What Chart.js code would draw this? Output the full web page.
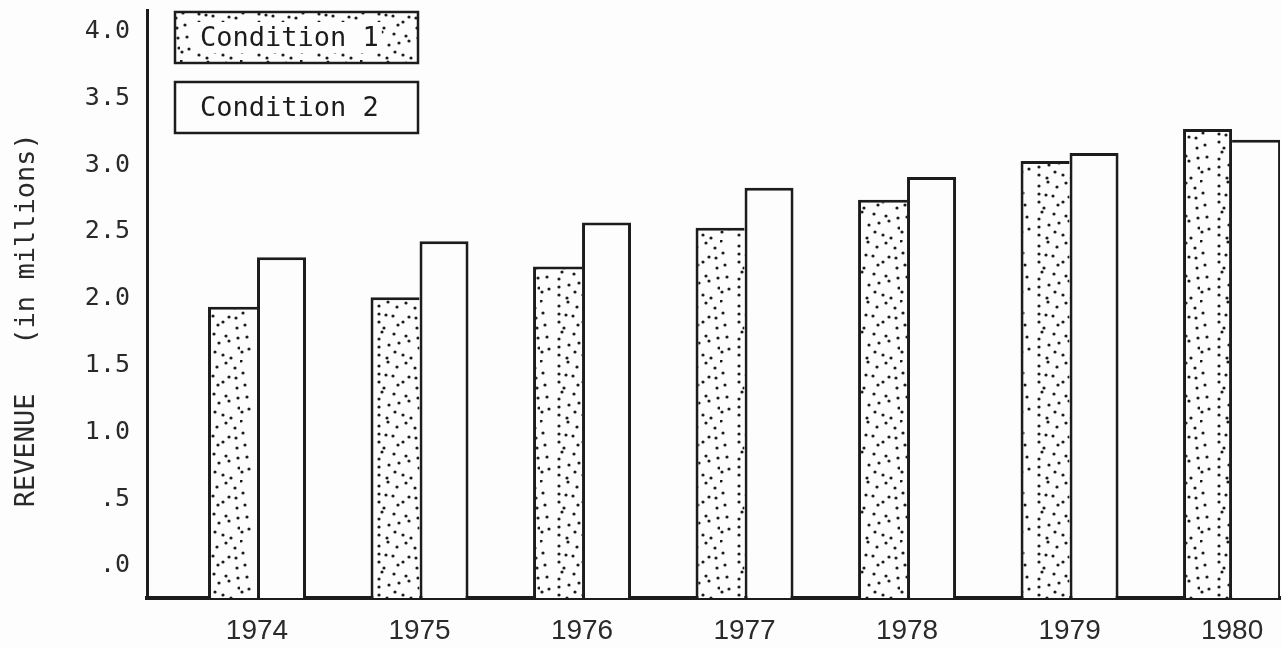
<!DOCTYPE html>
<html>
<head>
<meta charset="utf-8">
<script src="https://cdn.jsdelivr.net/npm/chart.js@4.4.0/dist/chart.umd.min.js"></script>
<style>
  html, body { margin: 0; padding: 0; background: #fdfdfd; }
  #wrap { width: 1282px; height: 648px; }
</style>
</head>
<body>
<div id="wrap"><canvas id="revenue-chart"></canvas></div>
<script>
// Données (revenus en millions)
const years = ['1974', '1975', '1976', '1977', '1978', '1979', '1980'];
const condition1 = [1.94, 2.01, 2.24, 2.53, 2.74, 3.03, 3.27];
const condition2 = [2.31, 2.43, 2.57, 2.83, 2.91, 3.09, 3.19];
const seriesNames = ['Condition 1', 'Condition 2'];
const yTickValues = [0, 0.5, 1, 1.5, 2, 2.5, 3, 3.5, 4];
const yTickLabels = ['.0', '.5', '1.0', '1.5', '2.0', '2.5', '3.0', '3.5', '4.0'];
const yMin = -0.24;
const yMax = 4.16;

const ink = '#1c1c1c';
const paper = '#fdfdfd';
const monoFont = '"DejaVu Sans Mono", monospace';
const sansFont = '"Liberation Sans", sans-serif';

// motif pointillé (trame) pour la série 1
function makeDotPattern(ctx) {
  const tile = document.createElement('canvas');
  tile.width = 60;
  tile.height = 60;
  const t = tile.getContext('2d');
  t.fillStyle = paper;
  t.fillRect(0, 0, 60, 60);
  t.fillStyle = ink;
  for (let i = 0; i < 6; i++) {
    for (let j = 0; j < 6; j++) {
      const dx = ((i * 17 + j * 29 + i * j * 7) % 9) - 4;
      const dy = ((i * 23 + j * 11 + i * j * 5) % 9) - 4;
      t.beginPath();
      t.arc(i * 10 + 5 + dx, j * 10 + 5 + dy, 1.6, 0, Math.PI * 2);
      t.fill();
    }
  }
  return ctx.createPattern(tile, 'repeat');
}

// légende en cadres, en haut à gauche
const boxLegend = {
  id: 'boxLegend',
  afterDraw(chart) {
    const { ctx, chartArea } = chart;
    const x = chartArea.left + 28;
    const w = 243;
    const h = 51;
    const tops = [12, 82];
    chart.data.datasets.forEach((ds, i) => {
      const y = tops[i];
      ctx.save();
      ctx.fillStyle = ds.backgroundColor;
      ctx.fillRect(x, y, w, h);
      ctx.font = '27px ' + monoFont;
      ctx.textBaseline = 'middle';
      const tw = ctx.measureText(ds.label).width;
      if (i === 0) {
        ctx.fillStyle = paper;
        ctx.fillRect(x + 22, y + 10, tw + 6, h - 20);
      }
      ctx.fillStyle = ink;
      ctx.fillText(ds.label, x + 25, y + h / 2 + 1);
      ctx.strokeStyle = ink;
      ctx.lineWidth = 2.5;
      ctx.strokeRect(x, y, w, h);
      ctx.restore();
    });
  }
};

function initializeRevenueChart() {
  const canvas = document.getElementById('revenue-chart');
  if (!canvas || typeof Chart === 'undefined') {
    console.warn('Chart.js ou canvas manquant');
    return;
  }
  const dots = makeDotPattern(canvas.getContext('2d'));

  // la barre la plus haute porte le trait commun entre les deux barres
  const sharedC1 = ctx => (condition1[ctx.dataIndex] > condition2[ctx.dataIndex] ? 3 : 0);
  const sharedC2 = ctx => (condition1[ctx.dataIndex] > condition2[ctx.dataIndex] ? 0 : 3);

  new Chart(canvas, {
    type: 'bar',
    data: {
      datasets: [
        {
          label: seriesNames[0],
          data: condition1.map((v, i) => ({ x: i, y: [yMin, v] })),
          backgroundColor: dots,
          borderColor: ink,
          borderWidth: ctx => ({ top: 3, left: 3, right: sharedC1(ctx), bottom: 0 }),
          borderSkipped: false
        },
        {
          label: seriesNames[1],
          data: condition2.map((v, i) => ({ x: i, y: [yMin, v] })),
          backgroundColor: paper,
          borderColor: ink,
          borderWidth: ctx => ({ top: 3, left: sharedC2(ctx), right: 3, bottom: 0 }),
          borderSkipped: false
        }
      ]
    },
    options: {
      responsive: true,
      maintainAspectRatio: false,
      animation: false,
      layout: { padding: { top: 10, right: 2, left: 0, bottom: 0 } },
      datasets: { bar: { categoryPercentage: 0.603, barPercentage: 1 } },
      plugins: {
        legend: { display: false },
        tooltip: { enabled: false }
      },
      scales: {
        x: {
          type: 'linear',
          min: -0.677,
          max: 6.295,
          offset: false,
          grid: { display: false },
          border: { color: ink, width: 4 },
          afterBuildTicks: axis => { axis.ticks = years.map((_, i) => ({ value: i })); },
          afterFit: axis => {
            axis.height = 50;
            axis.paddingLeft = 0;
            axis.paddingRight = 0;
          },
          ticks: {
            autoSkip: false,
            maxRotation: 0,
            padding: 8,
            color: '#2a2a2a',
            font: { family: sansFont, size: 28 },
            callback: (value, index) => years[index]
          }
        },
        y: {
          min: yMin,
          max: yMax,
          grid: { display: false },
          border: { color: ink, width: 3 },
          afterBuildTicks: axis => { axis.ticks = yTickValues.map(v => ({ value: v })); },
          afterFit: axis => {
            axis.width = 147;
            axis.paddingTop = 0;
            axis.paddingBottom = 0;
          },
          ticks: {
            padding: 9,
            color: '#2a2a2a',
            font: { family: monoFont, size: 25 },
            callback: (value, index) => yTickLabels[index]
          },
          title: {
            display: true,
            text: 'REVENUE   (in millions)  ',
            color: '#2a2a2a',
            font: { family: monoFont, size: 27 },
            padding: { top: 11, bottom: 0 }
          }
        }
      }
    },
    plugins: [boxLegend]
  });
}

initializeRevenueChart();
</script>
</body>
</html>
